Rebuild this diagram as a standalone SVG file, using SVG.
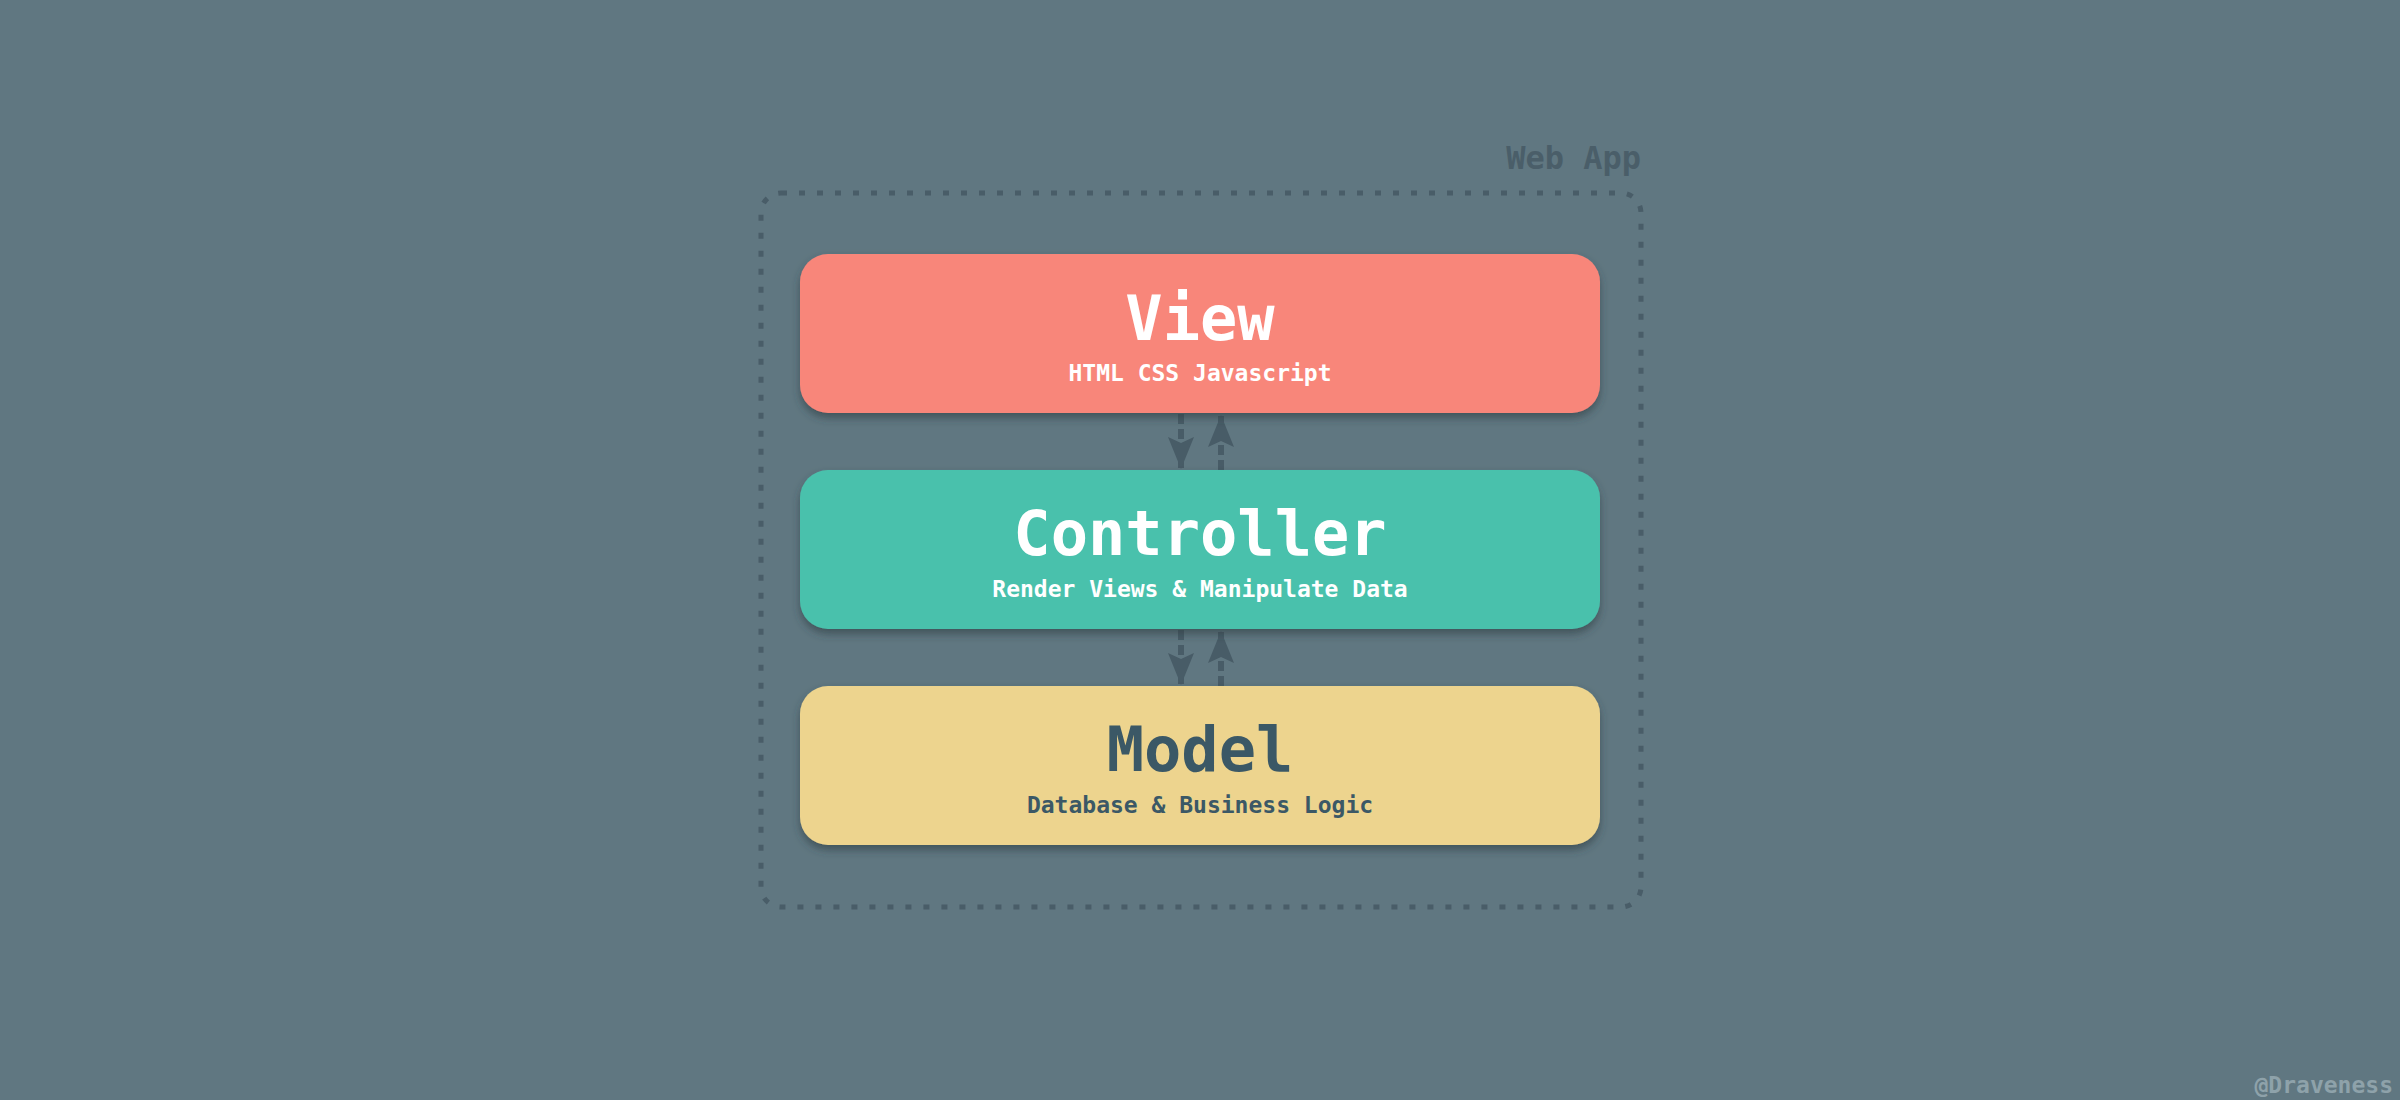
<svg xmlns="http://www.w3.org/2000/svg" width="2400" height="1100" viewBox="0 0 2400 1100">
<style>
.title{font-family:"DejaVu Sans Mono","Liberation Mono",monospace;font-size:62px;font-weight:bold;text-anchor:middle}
.sub{font-family:"DejaVu Sans Mono","Liberation Mono",monospace;font-size:23px;font-weight:bold;text-anchor:middle}
.light{fill:#ffffff}
.dark{fill:#3b5866}
.conn{stroke:#485c67;stroke-width:6;stroke-dasharray:10 5;fill:none}
</style>
<defs>
<filter id="sh" x="-10%" y="-20%" width="120%" height="150%">
<feDropShadow dx="0" dy="5" stdDeviation="4" flood-color="#2a3a42" flood-opacity="0.6"/>
</filter>
<marker id="ah" markerWidth="32" markerHeight="26" refX="31" refY="13" viewBox="0 0 32 26" orient="auto" markerUnits="userSpaceOnUse">
<path d="M0,0 L32,13 L0,26 L6,13 Z" fill="#485c67"/>
</marker>
</defs>
<rect width="2400" height="1100" fill="#607781"/>
<g id="webapp">
<rect x="761" y="193" width="880" height="714" rx="20" fill="none" stroke="#495d68" stroke-width="5" stroke-dasharray="6 12"/>
<text x="1641" y="169" text-anchor="end" font-family="DejaVu Sans Mono,Liberation Mono,monospace" font-size="32" font-weight="bold" fill="#4a5e69">Web App</text>
</g>
<g id="connectors">
<line class="conn" x1="1181" y1="414" x2="1181" y2="468" marker-end="url(#ah)"/>
<line class="conn" x1="1221" y1="470" x2="1221" y2="416" marker-end="url(#ah)"/>
<line class="conn" x1="1181" y1="630" x2="1181" y2="684" marker-end="url(#ah)"/>
<line class="conn" x1="1221" y1="686" x2="1221" y2="632" marker-end="url(#ah)"/>
</g>
<g id="view">
<rect x="800" y="254" width="800" height="159" rx="28" fill="#f8867a" filter="url(#sh)"/>
<text class="title light" x="1200" y="340">View</text>
<text class="sub light" x="1200" y="381">HTML CSS Javascript</text>
</g>
<g id="controller">
<rect x="800" y="470" width="800" height="159" rx="28" fill="#4ac1ac" filter="url(#sh)"/>
<text class="title light" x="1200" y="555">Controller</text>
<text class="sub light" x="1200" y="597">Render Views &amp; Manipulate Data</text>
</g>
<g id="model">
<rect x="800" y="686" width="800" height="159" rx="28" fill="#edd48e" filter="url(#sh)"/>
<text class="title dark" x="1200" y="771">Model</text>
<text class="sub dark" x="1200" y="813">Database &amp; Business Logic</text>
</g>
<text x="2393" y="1093" text-anchor="end" font-family="DejaVu Sans Mono,Liberation Mono,monospace" font-size="23" font-weight="bold" fill="#8ea2aa">@Draveness</text>
</svg>
